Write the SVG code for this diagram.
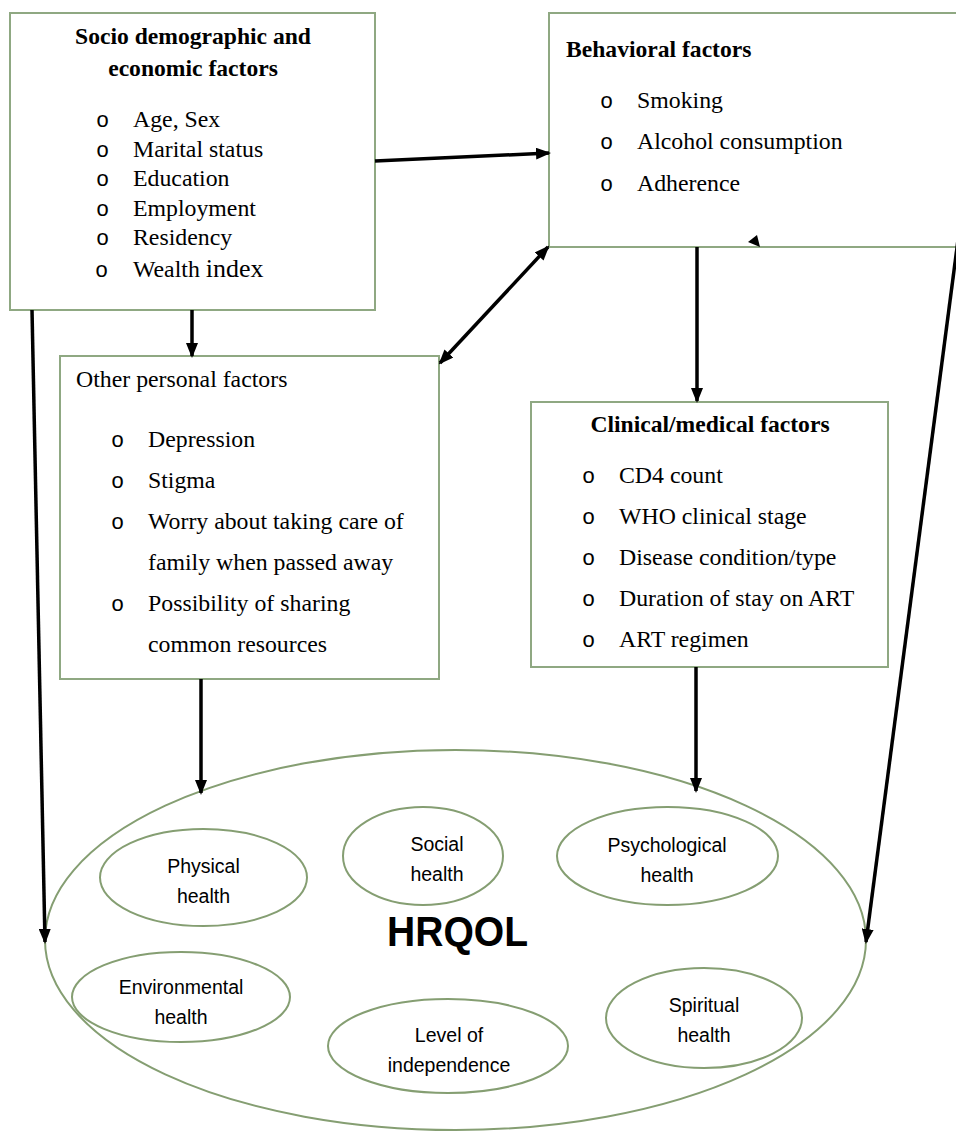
<svg xmlns="http://www.w3.org/2000/svg" width="956" height="1131" viewBox="0 0 956 1131">
<style>
.box{fill:#fff;stroke:#8fa882;stroke-width:2}
.oval{fill:none;stroke:#859e72;stroke-width:2}
.t{font-family:"Liberation Serif","Times New Roman",serif;font-size:23.8px;fill:#000}
.tb{font-family:"Liberation Serif","Times New Roman",serif;font-size:23.6px;font-weight:bold;fill:#000}
.bul{font-family:"Liberation Mono","Courier New",monospace;font-size:22px;fill:#000}
.e{font-family:"Liberation Sans",Arial,sans-serif;font-size:19.5px;fill:#000;text-anchor:middle}
.c{text-anchor:middle}
.arr{stroke:#000;stroke-width:3.5;fill:none}
</style>
<defs>
<marker id="ah" markerUnits="userSpaceOnUse" markerWidth="15" markerHeight="12" refX="13" refY="6" orient="auto-start-reverse" viewBox="0 0 15 12">
<path d="M0,0 L15,6 L0,12 z" fill="#000"/>
</marker>
</defs>
<rect width="956" height="1131" fill="#fff"/>

<g id="hrqol">
<ellipse class="oval" cx="455.5" cy="940" rx="410.5" ry="190"/>
<text x="457.5" y="946" font-family="'Liberation Sans',Arial,sans-serif" font-size="42" font-weight="bold" text-anchor="middle" textLength="141" lengthAdjust="spacingAndGlyphs">HRQOL</text>
</g>

<g id="socio">
<rect class="box" x="10" y="13" width="365" height="297"/>
<text class="tb c" x="193" y="44">Socio demographic and</text>
<text class="tb c" x="193" y="76">economic factors</text>
<text class="bul" x="96" y="127">o</text><text class="t" x="133" y="127">Age, Sex</text>
<text class="bul" x="96" y="157">o</text><text class="t" x="133" y="157">Marital status</text>
<text class="bul" x="96" y="186">o</text><text class="t" x="133" y="186">Education</text>
<text class="bul" x="96" y="216">o</text><text class="t" x="133" y="216">Employment</text>
<text class="bul" x="96" y="245">o</text><text class="t" x="133" y="245">Residency</text>
<text class="bul" x="95" y="277" font-size="24">o</text><text class="t" x="133" y="277">Wealth <tspan font-size="26">index</tspan></text>
</g>

<g id="behavioral">
<rect class="box" x="549" y="13" width="420" height="234"/>
<text class="tb" x="566" y="57">Behavioral factors</text>
<text class="bul" x="600" y="108">o</text><text class="t" x="637" y="108">Smoking</text>
<text class="bul" x="600" y="149">o</text><text class="t" x="637" y="149">Alcohol consumption</text>
<text class="bul" x="600" y="191">o</text><text class="t" x="637" y="191">Adherence</text>
</g>

<g id="other">
<rect class="box" x="60" y="356" width="379" height="323"/>
<text class="t" x="76" y="387">Other personal factors</text>
<text class="bul" x="111" y="447">o</text><text class="t" x="148" y="447">Depression</text>
<text class="bul" x="111" y="488">o</text><text class="t" x="148" y="488">Stigma</text>
<text class="bul" x="111" y="529">o</text><text class="t" x="148" y="529">Worry about taking care of</text>
<text class="t" x="148" y="570">family when passed away</text>
<text class="bul" x="111" y="611">o</text><text class="t" x="148" y="611">Possibility of sharing</text>
<text class="t" x="148" y="652">common resources</text>
</g>

<g id="clinical">
<rect class="box" x="531" y="402" width="357" height="265"/>
<text class="tb c" x="710" y="432">Clinical/medical factors</text>
<text class="bul" x="582" y="483">o</text><text class="t" x="619" y="483">CD4 count</text>
<text class="bul" x="582" y="524">o</text><text class="t" x="619" y="524">WHO clinical stage</text>
<text class="bul" x="582" y="565">o</text><text class="t" x="619" y="565">Disease condition/type</text>
<text class="bul" x="582" y="606">o</text><text class="t" x="619" y="606">Duration of stay on ART</text>
<text class="bul" x="582" y="647">o</text><text class="t" x="619" y="647">ART regimen</text>
</g>

<g id="physical"><ellipse class="oval" cx="203.5" cy="877.5" rx="103.5" ry="48.5"/><text class="e" x="203.5" y="873">Physical</text><text class="e" x="203.5" y="903">health</text></g>
<g id="social"><ellipse class="oval" cx="423" cy="856" rx="80" ry="49"/><text class="e" x="437" y="851">Social</text><text class="e" x="437" y="881">health</text></g>
<g id="psychological"><ellipse class="oval" cx="667.5" cy="856" rx="110.5" ry="49"/><text class="e" x="667" y="852">Psychological</text><text class="e" x="667" y="882">health</text></g>
<g id="environmental"><ellipse class="oval" cx="181" cy="997" rx="109" ry="45"/><text class="e" x="181" y="994">Environmental</text><text class="e" x="181" y="1024">health</text></g>
<g id="independence"><ellipse class="oval" cx="448" cy="1046" rx="120" ry="47"/><text class="e" x="449" y="1042">Level of</text><text class="e" x="449" y="1072">independence</text></g>
<g id="spiritual"><ellipse class="oval" cx="704" cy="1018" rx="98" ry="50"/><text class="e" x="704" y="1012">Spiritual</text><text class="e" x="704" y="1042">health</text></g>

<g id="connectors">
<line class="arr" x1="375" y1="161" x2="549" y2="153" marker-end="url(#ah)"/>
<line class="arr" x1="440" y1="363" x2="548" y2="247" marker-start="url(#ah)" marker-end="url(#ah)"/>
<line class="arr" x1="192" y1="310" x2="192" y2="356" marker-end="url(#ah)"/>
<line class="arr" x1="697" y1="247" x2="697" y2="401" marker-end="url(#ah)"/>
<line class="arr" x1="201" y1="679" x2="201" y2="793" marker-end="url(#ah)"/>
<line class="arr" x1="696" y1="667" x2="696" y2="791" marker-end="url(#ah)"/>
<line class="arr" x1="32" y1="310" x2="45" y2="942" marker-end="url(#ah)"/>
<line class="arr" x1="958" y1="240" x2="866" y2="942" marker-end="url(#ah)"/>
<polygon points="757,235 748,242 760,247" fill="#000"/>
</g>
</svg>
